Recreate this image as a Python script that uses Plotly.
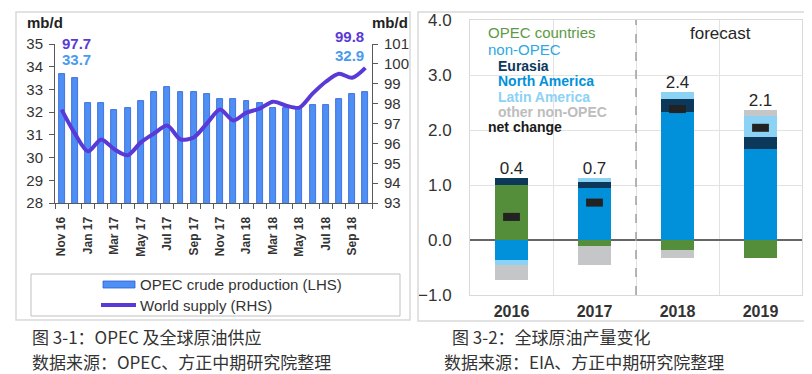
import plotly.graph_objects as go

# ---------------- data: left chart ----------------
months = ["Nov 16", "Dec 16", "Jan 17", "Feb 17", "Mar 17", "Apr 17", "May 17", "Jun 17",
          "Jul 17", "Aug 17", "Sep 17", "Oct 17", "Nov 17", "Dec 17", "Jan 18", "Feb 18",
          "Mar 18", "Apr 18", "May 18", "Jun 18", "Jul 18", "Aug 18", "Sep 18", "Oct 18"]
opec_crude = [33.7, 33.5, 32.4, 32.4, 32.1, 32.2, 32.5, 32.9, 33.1, 32.9, 32.9, 32.8,
              32.6, 32.6, 32.5, 32.4, 32.2, 32.2, 32.2, 32.3, 32.3, 32.6, 32.8, 32.9]
world_supply = [97.7, 96.5, 95.6, 96.2, 95.7, 95.4, 96.05, 96.5, 96.9, 96.2, 96.3, 97.0,
                97.7, 97.15, 97.55, 97.75, 98.1, 97.9, 97.8, 98.5, 99.1, 99.5, 99.3, 99.8]
left_tick_labels = months[::2]

# ---------------- data: right chart ----------------
years = ["2016", "2017", "2018", "2019"]
opec_countries = [1.00, -0.11, -0.18, -0.33]
north_america = [-0.36, 0.95, 2.33, 1.65]
eurasia = [0.13, 0.10, 0.23, 0.23]
latin_america = [-0.09, 0.07, 0.13, 0.37]
other_non_opec = [-0.27, -0.34, -0.15, 0.11]
net_change = [0.42, 0.68, 2.38, 2.04]
net_labels = ["0.4", "0.7", "2.4", "2.1"]

# the page body adds an 8px offset; size the figure to fill the rest of the window
OFF = 8
W, H = 812 - OFF, 374 - OFF
def px(x):
    return (x - OFF) / W
def py(y):
    return 1 - (y - OFF) / H

LAT = "Liberation Sans, Arial, sans-serif"
CJK = "Noto Sans CJK SC, sans-serif"

BAR_BLUE = "#4d8ff5"
BAR_EDGE = "#2f5fd0"
LINE_PURPLE = "#5a3ad6"
LABEL_BLUE = "#4a9af0"

C_OPEC = "#548e3a"
C_NA = "#0091da"
C_EUR = "#0c385a"
C_LAT = "#8cd2f5"
C_OTH = "#c4c6c8"

fig = go.Figure()

idx = list(range(len(months)))
fig.add_trace(go.Bar(x=idx, y=opec_crude, xaxis="x", yaxis="y", width=0.45,
                     marker=dict(color=BAR_BLUE, line=dict(color=BAR_EDGE, width=0.8)),
                     name="OPEC crude production (LHS)", showlegend=False))
fig.add_trace(go.Scatter(x=idx, y=world_supply, xaxis="x", yaxis="y2", mode="lines",
                         line=dict(color=LINE_PURPLE, width=4, shape="spline", smoothing=0.8),
                         name="World supply (RHS)", showlegend=False))

series = [("OPEC countries", opec_countries, C_OPEC),
          ("North America", north_america, C_NA),
          ("Eurasia", eurasia, C_EUR),
          ("Latin America", latin_america, C_LAT),
          ("other non-OPEC", other_non_opec, C_OTH)]
for name, vals, col in series:
    fig.add_trace(go.Bar(x=years, y=vals, xaxis="x2", yaxis="y3", width=0.4,
                         marker=dict(color=col, line=dict(width=0)), name=name, showlegend=False))

fig.add_trace(go.Scatter(x=years, y=net_change, xaxis="x2", yaxis="y3", mode="markers",
                         marker=dict(symbol="line-ew", size=12, color="#222",
                                     line=dict(width=8, color="#222")),
                         name="net change", showlegend=False))

pos_top = [sum(v for v in col if v > 0) for col in zip(*[s[1] for s in series])]
fig.add_trace(go.Scatter(x=years, y=pos_top, xaxis="x2", yaxis="y3", mode="text",
                         text=net_labels, textposition="top center",
                         textfont=dict(family=LAT, size=17, color="#262626"),
                         showlegend=False, hoverinfo="skip", cliponaxis=False))

axis_dark = "#595959"
fig.update_layout(
    width=W, height=H, autosize=False,
    margin=dict(l=0, r=0, t=0, b=0, pad=0, autoexpand=False),
    showlegend=False,
    paper_bgcolor="white", plot_bgcolor="rgba(0,0,0,0)",
    barmode="relative", bargap=0,
    font=dict(family=LAT, color="#333"),
    xaxis=dict(domain=[px(55), px(372)], range=[-0.5, len(months) - 0.5], automargin=False,
               showline=True, linecolor=axis_dark, linewidth=1, showgrid=False, zeroline=False,
               tickmode="array", tickvals=idx[::2], ticktext=left_tick_labels, tickangle=-90,
               ticks="", ticklabelstandoff=8,
               tickfont=dict(family=LAT, size=12, color="#333", weight="bold"),
               minor=dict(tickmode="array", tickvals=[i - 0.5 for i in range(len(months) + 1)],
                          ticks="outside", ticklen=5, tickcolor=axis_dark, showgrid=False),
               anchor="y"),
    yaxis=dict(domain=[py(203), py(44)], range=[28, 35], dtick=1, automargin=False,
               showline=True, linecolor=axis_dark, showgrid=False, zeroline=False,
               ticks="outside", ticklen=5, tickcolor=axis_dark, ticklabelstandoff=3,
               tickfont=dict(family=LAT, size=15, color="#333"), anchor="x"),
    yaxis2=dict(overlaying="y", side="right", range=[93, 101], dtick=1, anchor="x",
                automargin=False,
                showline=True, linecolor=axis_dark, showgrid=False, zeroline=False,
                ticks="outside", ticklen=5, tickcolor=axis_dark, ticklabelstandoff=3,
                tickfont=dict(family=LAT, size=15, color="#333")),
    xaxis2=dict(domain=[px(470), px(802)], type="category", categoryorder="array",
                categoryarray=years, anchor="y3", automargin=False,
                showline=True, mirror=True, linecolor="#d9d9d9", linewidth=1,
                showgrid=True, gridcolor="#e2e2e2", tickson="boundaries", ticks="",
                ticklabelstandoff=2,
                tickfont=dict(family=LAT, size=16, color="#333", weight="bold")),
    yaxis3=dict(domain=[py(295), py(20)], range=[-1, 4], tickvals=[-1, 0, 1, 2, 3, 4],
                tickformat=".1f", anchor="x2", automargin=False,
                showline=True, mirror=True, linecolor="#d9d9d9", linewidth=1,
                showgrid=True, gridcolor="#e2e2e2",
                zeroline=True, zerolinecolor="#666", zerolinewidth=1.5,
                ticks="", ticklabelstandoff=14,
                tickfont=dict(family=LAT, size=17, color="#333")),
)

shapes = [
    # outer frames
    dict(type="rect", xref="paper", yref="paper", x0=px(16), x1=px(410), y0=py(320), y1=py(12),
         line=dict(color="#d9d9d9", width=1.5)),
    dict(type="rect", xref="paper", yref="paper", x0=px(418), x1=px(811.5), y0=py(321), y1=py(12),
         line=dict(color="#d9d9d9", width=1.5)),
    # left legend box and swatches
    dict(type="rect", xref="paper", yref="paper", x0=px(31), x1=px(400), y0=py(316), y1=py(274),
         line=dict(color="#bfbfbf", width=1)),
    dict(type="rect", xref="paper", yref="paper", x0=px(103), x1=px(135), y0=py(288), y1=py(281),
         fillcolor=BAR_BLUE, line=dict(color=BAR_EDGE, width=0.8)),
    dict(type="line", xref="paper", yref="paper", x0=px(101), x1=px(136), y0=py(305), y1=py(305),
         line=dict(color=LINE_PURPLE, width=4)),
    # forecast divider
    dict(type="line", xref="x2", yref="y3 domain", x0=1.5, x1=1.5, y0=0, y1=1,
         line=dict(color="#a0a0a0", width=1.5, dash="dash")),
]
fig.update_layout(shapes=shapes)

ann = []
def A(text, x, y, size, color, xanchor="left", family=LAT, bold=False):
    ann.append(dict(text=text, x=px(x), y=py(y), xref="paper", yref="paper",
                    xanchor=xanchor, yanchor="middle", showarrow=False,
                    font=dict(family=family, size=size, color=color,
                              weight="bold" if bold else "normal")))

# left chart texts
A("mb/d", 25, 22, 15, "#222", bold=True)
A("mb/d", 370, 22, 15, "#222", bold=True)
A(f"{world_supply[0]:.1f}", 60, 43, 15, LINE_PURPLE, bold=True)
A(f"{opec_crude[0]:.1f}", 60, 60, 15, LABEL_BLUE, bold=True)
A(f"{world_supply[-1]:.1f}", 366, 37, 15, LINE_PURPLE, xanchor="right", bold=True)
A(f"{opec_crude[-1]:.1f}", 366, 55, 15, LABEL_BLUE, xanchor="right", bold=True)
A("OPEC crude production (LHS)", 138, 284, 15, "#333")
A("World supply (RHS)", 138, 305, 15, "#333")

# right chart legend texts
A("OPEC countries", 486, 33, 15, "#5c9a45")
A("non-OPEC", 486, 49, 15, "#2ea8e0")
A("Eurasia", 496, 66, 14, C_EUR, bold=True)
A("North America", 496, 81.5, 14, C_NA, bold=True)
A("Latin America", 496, 97, 14, C_LAT, bold=True)
A("other non-OPEC", 496, 112, 14, "#bdbdbd", bold=True)
A("net change", 486, 127.5, 14, "#1a1a1a", bold=True)
A("forecast", 720, 34, 17, "#262626", xanchor="center")

# captions
A("图 3-1：OPEC 及全球原油供应", 30, 336, 17, "#333", family=CJK)
A("数据来源：OPEC、方正中期研究院整理", 30, 361, 17, "#333", family=CJK)
A("图 3-2：全球原油产量变化", 450, 336, 17, "#333", family=CJK)
A("数据来源：EIA、方正中期研究院整理", 442, 361, 17, "#333", family=CJK)

fig.update_layout(annotations=ann)

fig.write_html("out.html")
